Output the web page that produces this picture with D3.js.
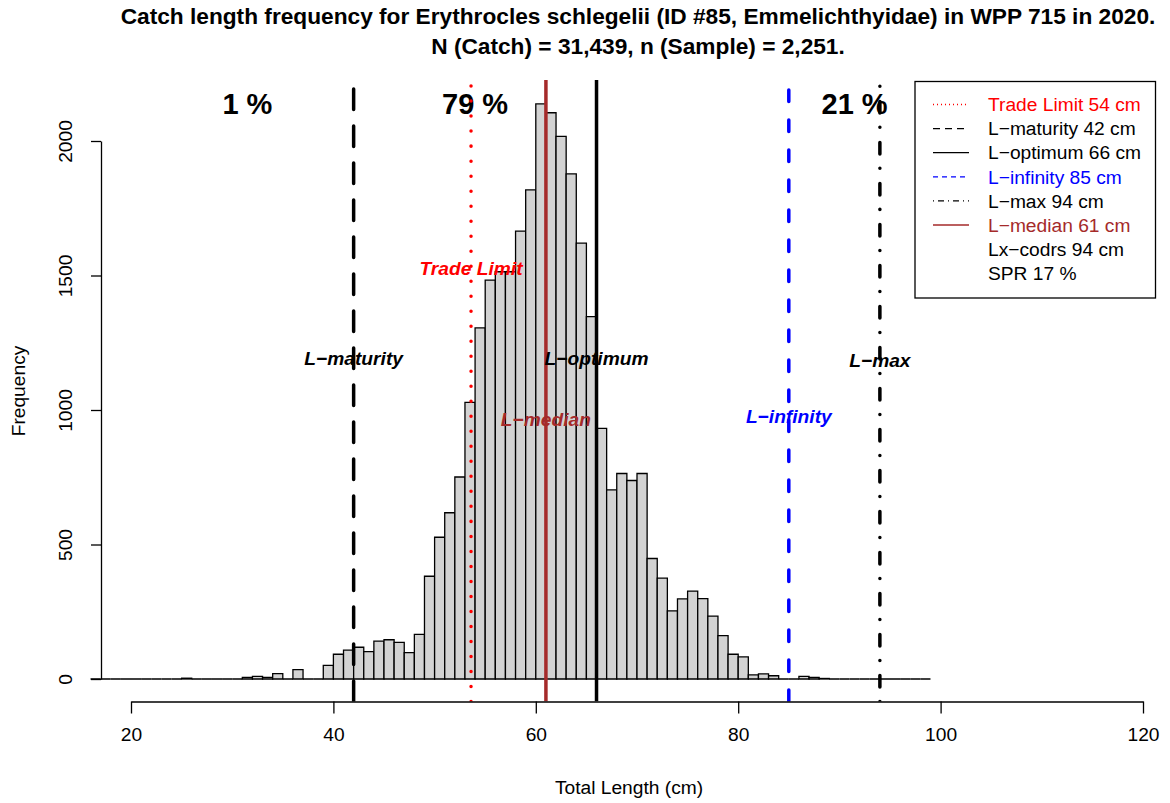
<!DOCTYPE html>
<html><head><meta charset="utf-8">
<script src="https://cdn.jsdelivr.net/npm/d3@7"></script>
<style>
body{margin:0;background:#fff}
svg{display:block}
text{font-family:"Liberation Sans",Arial,Helvetica,sans-serif}
</style>
</head><body>
<svg id="chart" width="1170" height="803"></svg>
<script>
// ---------------- DATA ----------------
const titleLines = [
  "Catch length frequency for Erythrocles schlegelii (ID #85, Emmelichthyidae) in WPP 715 in 2020.",
  "N (Catch) = 31,439, n (Sample) = 2,251."
];
// lower edge of each 1-cm length bin
const binLower = [16,17,18,19,20,21,22,23,24,25,26,27,28,29,30,31,32,33,34,35,36,37,38,39,40,
  41,42,43,44,45,46,47,48,49,50,51,52,53,54,55,56,57,58,59,60,61,62,63,64,65,66,67,68,69,70,
  71,72,73,74,75,76,77,78,79,80,81,82,83,84,85,86,87,88,89,90,91,92,93,94,95,96,97,98];
const binCounts = [0,0,0,0,0,0,0,0,0,3,0,0,0,0,0,6,10,6,20,0,35,0,0,51,92,
  107,118,102,141,146,136,98,166,382,527,618,751,1028,1305,1483,1514,1514,1665,1818,2138,2105,2017,1878,1620,1347,932,703,764,738,764,
  448,375,253,298,327,299,234,161,92,82,15,19,12,0,0,10,6,2,0,0,0,0,0,0,0,0,0,0];
const binWidth = 1;

const xTicks = [20, 40, 60, 80, 100, 120];
const yTicks = [0, 500, 1000, 1500, 2000];
const xLabel = "Total Length (cm)";
const yLabel = "Frequency";

const refNames   = ["Trade Limit", "L\u2212maturity", "L\u2212optimum", "L\u2212infinity", "L\u2212max", "L\u2212median"];
const refLengths = [53.6, 42, 66, 85, 94, 61];          // where the line is drawn
const refLegendCm = [54, 42, 66, 85, 94, 61];           // value printed in legend
const refLabelY  = [1525, 1193, 1193, 978, 1186, 967];  // frequency level of in-plot label
const extraLegend = ["Lx\u2212codrs 94 cm", "SPR 17 %"];

const pctLabels = ["1 %", "79 %", "21 %"];
const pctX = [31.5, 54, 91.5];

// ---------------- STYLES ----------------
const refStyle = [
  {color:"#FF0000", width:3.5, dash:"0.01 15",            legDash:"1 3"},
  {color:"#000000", width:3.5, dash:"20.5 16.5",          legDash:"7 5"},
  {color:"#000000", width:3.5, dash:null,                 legDash:null},
  {color:"#0000FF", width:3.5, dash:"11.5 18.5",          legDash:"5 4"},
  {color:"#000000", width:3.5, dash:"0.01 14.45 11.5 15.05", legDash:"1 4 6 4"},
  {color:"#A52A2A", width:3.5, dash:null,                 legDash:null}
];

// ---------------- LAYOUT ----------------
const svg = d3.select("#chart");
const x = d3.scaleLinear().domain([20, 120]).range([131, 1143]);
const y = d3.scaleLinear().domain([0, 2000]).range([679, 141]);
const plotTop = 80, plotBottom = 701.5, axisLeftX = 101;
const fs = 19.2;

// title
svg.append("g").selectAll("text").data(titleLines).join("text")
  .attr("x", 638).attr("y", (d,i) => 16 + i*30).attr("dy","0.35em")
  .attr("text-anchor","middle").attr("font-weight","bold").attr("font-size", 22.7)
  .text(d => d);

// clip
svg.append("clipPath").attr("id","plotclip").append("rect")
  .attr("x", 0).attr("y", plotTop).attr("width", 1170).attr("height", plotBottom - plotTop);

// histogram bars (zero-height bins draw as baseline segments)
svg.append("g").selectAll("path").data(binLower).join("path")
  .attr("d", (d,i) => {
    const x0 = x(d), x1 = x(d + binWidth), y0 = y(0), y1 = y(binCounts[i]);
    return `M${x0},${y0}V${y1}H${x1}V${y0}Z`;
  })
  .attr("fill", "#D3D3D3").attr("stroke", "#000").attr("stroke-width", 1.3);

// percent labels
const pctY = d3.max(binCounts);
svg.append("g").selectAll("text").data(pctLabels).join("text")
  .attr("x", (d,i) => x(pctX[i])).attr("y", y(pctY))
  .attr("dy", "0.35em").attr("text-anchor","middle")
  .attr("font-weight","bold").attr("font-size", 29).text(d => d);

// reference lines
svg.append("g").attr("clip-path","url(#plotclip)").selectAll("line").data(refLengths).join("line")
  .attr("x1", d => x(d)).attr("x2", d => x(d))
  .attr("y1", plotBottom).attr("y2", plotTop)
  .attr("stroke", (d,i) => refStyle[i].color)
  .attr("stroke-width", (d,i) => refStyle[i].width)
  .attr("stroke-linecap", (d,i) => refStyle[i].dash ? "round" : "butt")
  .attr("stroke-dasharray", (d,i) => refStyle[i].dash);

// in-plot labels
svg.append("g").selectAll("text").data(refNames).join("text")
  .attr("x", (d,i) => x(refLengths[i])).attr("y", (d,i) => y(refLabelY[i]))
  .attr("dy","0.35em").attr("text-anchor","middle")
  .attr("font-weight","bold").attr("font-style","italic").attr("font-size", fs)
  .attr("fill", (d,i) => refStyle[i].color).text(d => d);

// x axis
const xAxis = svg.append("g").attr("transform", `translate(0,${plotBottom})`)
  .call(d3.axisBottom(x).tickValues(xTicks).tickSize(12).tickSizeOuter(0).tickPadding(14).tickFormat(d3.format("d")));
xAxis.selectAll("text").attr("font-size", fs).attr("fill","#000").style("font-family",'"Liberation Sans",Arial,sans-serif');
xAxis.selectAll("line,path").attr("stroke","#000").attr("stroke-width",1.3);

// y axis
const yAxis = svg.append("g").attr("transform", `translate(${axisLeftX},0)`)
  .call(d3.axisLeft(y).tickValues(yTicks).tickSize(10).tickSizeOuter(0).tickFormat(d3.format("d")));
yAxis.selectAll("line,path").attr("stroke","#000").attr("stroke-width",1.3);
yAxis.selectAll("text").attr("font-size", fs).attr("fill","#000")
  .style("font-family",'"Liberation Sans",Arial,sans-serif')
  .attr("x", null).attr("dy", null)
  .attr("text-anchor","middle")
  .attr("transform", "translate(-29,0) rotate(-90)")
  .attr("y", 0);

// axis titles
svg.append("text").attr("x", 629).attr("y", 787).attr("dy","0.35em")
  .attr("text-anchor","middle").attr("font-size", fs).text(xLabel);
svg.append("text").attr("transform","translate(18,391) rotate(-90)").attr("dy","0.35em")
  .attr("text-anchor","middle").attr("font-size", fs).text(yLabel);

// legend
const leg = svg.append("g");
leg.append("rect").attr("x", 915).attr("y", 81.5).attr("width", 240.5).attr("height", 216.5)
  .attr("fill","#fff").attr("stroke","#000").attr("stroke-width",1.3);
const legRows = refNames.map((n,i) => ({text: `${n} ${refLegendCm[i]} cm`, style: refStyle[i]}))
  .concat(extraLegend.map(t => ({text: t, style: null})));
const rowY = i => 104.5 + i*24.1;
leg.selectAll("line").data(legRows.filter(r => r.style)).join("line")
  .attr("x1", 933).attr("x2", 969)
  .attr("y1", (d,i) => rowY(i)).attr("y2", (d,i) => rowY(i))
  .attr("stroke", d => d.style.color).attr("stroke-width", 1.3)
  .attr("stroke-dasharray", d => d.style.legDash);
leg.selectAll("text").data(legRows).join("text")
  .attr("x", 988).attr("y", (d,i) => rowY(i)).attr("dy","0.35em")
  .attr("font-size", fs)
  .attr("fill", d => d.style ? (d.style.color === "#000000" ? "#000" : d.style.color) : "#000")
  .text(d => d.text);
</script>
</body></html>
